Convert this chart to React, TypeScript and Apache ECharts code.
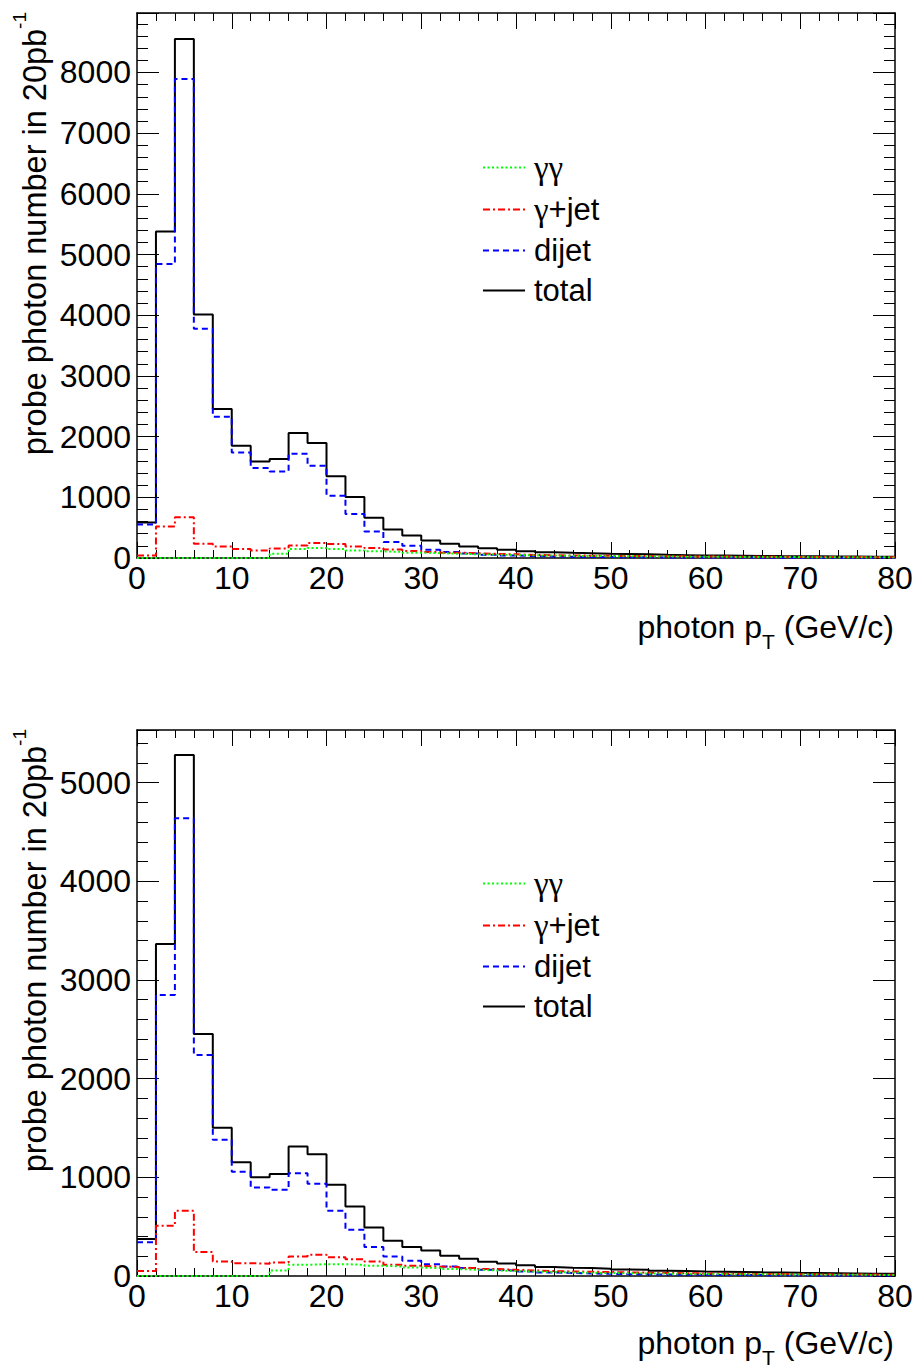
import React, { useEffect, useRef } from "react";
import * as echarts from "echarts";

// bin edges (GeV/c), 2 GeV bins
const binEdges = [0, 2, 4, 6, 8, 10, 12, 14, 16, 18, 20, 22, 24, 26, 28, 30, 32, 34, 36, 38, 40, 42, 44, 46, 48, 50, 52, 54, 56, 58, 60, 62, 64, 66, 68, 70, 72, 74, 76, 78, 80];
const xTicks = [0, 10, 20, 30, 40, 50, 60, 70, 80];

// top panel
const topGG = [0, 0, 0, 0, 0, 0, 0, 70, 148, 165, 148, 125, 110, 100, 88, 80, 70, 62, 55, 50, 44, 40, 36, 33, 30, 28, 26, 24, 22, 20, 19, 18, 17, 16, 15, 14, 13, 12, 11, 10];
const topGJ = [40, 520, 670, 236, 191, 148, 125, 158, 208, 247, 230, 191, 164, 140, 115, 100, 88, 78, 68, 60, 50, 45, 42, 38, 35, 33, 31, 29, 27, 25, 23, 22, 20, 19, 18, 17, 16, 15, 14, 13];
const topDJ = [550, 4843, 7891, 3778, 2328, 1740, 1483, 1427, 1718, 1521, 1026, 725, 438, 265, 200, 135, 100, 75, 55, 42, 32, 25, 20, 17, 15, 13, 11, 10, 9, 8, 7, 7, 6, 6, 5, 5, 4, 4, 3, 3];
const topTotal = [586, 5381, 8550, 4013, 2455, 1850, 1591, 1631, 2059, 1894, 1345, 1005, 664, 470, 370, 290, 235, 191, 160, 135, 112, 95, 87, 80, 72, 66, 60, 52, 47, 43, 40, 37, 35, 32, 30, 28, 26, 24, 22, 20];
const topYMax = 8980;

// bottom panel
const botGG = [0, 0, 0, 0, 0, 0, 0, 56, 113, 120, 120, 113, 103, 96, 86, 80, 70, 63, 56, 50, 45, 40, 36, 33, 30, 28, 26, 24, 22, 20, 19, 18, 17, 16, 15, 14, 13, 12, 11, 10];
const botGJ = [50, 510, 661, 242, 147, 130, 124, 137, 198, 215, 191, 171, 147, 113, 103, 96, 90, 80, 70, 63, 56, 50, 46, 43, 40, 37, 34, 31, 28, 26, 24, 22, 21, 20, 18, 17, 16, 15, 14, 13];
const botDJ = [343, 2849, 4639, 2241, 1380, 1056, 897, 873, 1042, 934, 661, 468, 293, 198, 154, 120, 96, 80, 63, 56, 45, 36, 30, 26, 22, 19, 17, 15, 13, 12, 11, 10, 9, 8, 7, 6, 6, 5, 5, 4];
const botTotal = [374, 3366, 5281, 2454, 1502, 1154, 1002, 1035, 1312, 1235, 924, 704, 491, 358, 293, 258, 205, 174, 144, 127, 110, 90, 84, 80, 74, 66, 63, 53, 50, 45, 43, 40, 37, 35, 32, 30, 28, 26, 24, 22];
const botYMax = 5534;

const seriesNames = ["γγ", "γ+jet", "dijet", "total"];

const FONT = "Liberation Sans, Arial, Helvetica, sans-serif";
const GREEK = "Liberation Serif, DejaVu Serif, serif";
const FS = 32;

function stepData(vals: number[]) {
  return binEdges.map((x, i) => [x, vals[Math.min(i, vals.length - 1)]]);
}

export default function App() {
  const ref = useRef<HTMLDivElement>(null);
  useEffect(() => {
    if (!ref.current) return;
    const chart = echarts.init(ref.current, null, { renderer: "svg" });

    const grids = [
      { left: 137, top: 13, width: 758, height: 545 },
      { left: 137, top: 730, width: 758, height: 546 },
    ];
    const yMax = [topYMax, botYMax];
    const panels = [
      { gg: topGG, gj: topGJ, dj: topDJ, tot: topTotal },
      { gg: botGG, gj: botGJ, dj: botDJ, tot: botTotal },
    ];

    const axisLine = { show: true, onZero: false, lineStyle: { color: "#000", width: 1.5 } };
    const xAxes: any[] = [];
    const yAxes: any[] = [];
    grids.forEach((_, gi) => {
      const xBase = {
        type: "value",
        gridIndex: gi,
        min: xTicks[0],
        max: xTicks[xTicks.length - 1],
        interval: 10,
        axisLine,
        axisTick: { show: true, inside: true, length: 16, lineStyle: { color: "#000", width: 1 } },
        minorTick: { show: true, splitNumber: 5, length: 8, lineStyle: { color: "#000", width: 1 } },
        splitLine: { show: false },
        minorSplitLine: { show: false },
      };
      xAxes.push({
        ...xBase,
        position: "bottom",
        axisLabel: { show: true, color: "#000", fontFamily: FONT, fontSize: FS, margin: 4, formatter: (v: number) => String(v) },
      });
      xAxes.push({ ...xBase, position: "top", axisLabel: { show: false } });
      const yBase = {
        type: "value",
        gridIndex: gi,
        min: 0,
        max: yMax[gi],
        interval: 1000,
        axisLine,
        axisTick: { show: true, inside: true, length: 22, lineStyle: { color: "#000", width: 1 } },
        minorTick: { show: true, splitNumber: 5, length: 11, lineStyle: { color: "#000", width: 1 } },
        splitLine: { show: false },
        minorSplitLine: { show: false },
      };
      yAxes.push({
        ...yBase,
        position: "left",
        axisLabel: {
          show: true,
          color: "#000",
          fontFamily: FONT,
          fontSize: FS,
          margin: 6,
          showMaxLabel: false,
          formatter: (v: number) => String(v),
        },
      });
      yAxes.push({ ...yBase, position: "right", axisLabel: { show: false } });
    });

    const series: any[] = [];
    panels.forEach((p, gi) => {
      const common = {
        type: "line",
        xAxisIndex: gi * 2,
        yAxisIndex: gi * 2,
        step: "end",
        symbol: "none",
        showSymbol: false,
        clip: true,
      };
      series.push({ ...common, name: "total", data: stepData(p.tot), lineStyle: { color: "#000", width: 2, type: "solid" }, itemStyle: { color: "#000" } });
      series.push({ ...common, name: "dijet", data: stepData(p.dj), lineStyle: { color: "#0000ff", width: 2, type: [6, 4] }, itemStyle: { color: "#0000ff" } });
      series.push({ ...common, name: "γ+jet", data: stepData(p.gj), lineStyle: { color: "#ff0000", width: 2, type: [7, 3, 2, 3] }, itemStyle: { color: "#ff0000" } });
      series.push({ ...common, name: "γγ", data: stepData(p.gg), lineStyle: { color: "#00ff00", width: 2, type: [2, 2.5] }, itemStyle: { color: "#00ff00" } });
    });

    const legendTops = [151, 867];
    const legends = legendTops.map((t) => ({
      orient: "vertical",
      left: 482,
      top: t,
      padding: 0,
      itemWidth: 42,
      itemHeight: 14,
      itemGap: 9,
      selectedMode: false,
      data: seriesNames,
      itemStyle: { opacity: 0, borderWidth: 0 },
      formatter: (name: string) =>
        name
          .split("")
          .map((c) => (c === "γ" ? "{g|γ}" : "{t|" + c + "}"))
          .join(""),
      textStyle: {
        color: "#000",
        fontFamily: FONT,
        fontSize: 31,
        padding: [0, 0, 0, 4],
        rich: {
          g: { fontFamily: GREEK, fontSize: 33, color: "#000" },
          t: { fontFamily: FONT, fontSize: 31, color: "#000" },
        },
      },
    }));

    const yTitle = (top: number) => ({
      type: "text",
      x: 10,
      y: top,
      rotation: Math.PI / 2,
      style: {
        text: "{a|probe photon number in 20pb}{s|-1}",
        align: "right",
        verticalAlign: "top",
        fill: "#000",
        rich: {
          a: { fontSize: 32.5, fontFamily: FONT, fill: "#000", padding: [8, 0, 0, 0], verticalAlign: "top" },
          s: { fontSize: 19, fontFamily: FONT, fill: "#000", verticalAlign: "top" },
        },
      },
    });
    const xTitle = (centerY: number) => ({
      type: "text",
      x: 894,
      y: centerY - 17,
      style: {
        text: "{a|photon p}{b|T}{a| (GeV/c)}",
        align: "right",
        verticalAlign: "top",
        fill: "#000",
        rich: {
          a: { fontSize: FS, fontFamily: FONT, fill: "#000", verticalAlign: "top" },
          b: { fontSize: 21, fontFamily: FONT, fill: "#000", verticalAlign: "top", padding: [20, 0, 0, 0] },
        },
      },
    });

    chart.setOption({
      animation: false,
      backgroundColor: "#fff",
      grid: grids,
      xAxis: xAxes,
      yAxis: yAxes,
      legend: legends,
      series,
      graphic: [yTitle(12), yTitle(729), xTitle(628), xTitle(1344)],
    });

    return () => chart.dispose();
  }, []);

  return (
    <div
      ref={ref}
      style={{ position: "absolute", left: 0, top: 0, width: 916, height: 1368, background: "#fff" }}
    />
  );
}
